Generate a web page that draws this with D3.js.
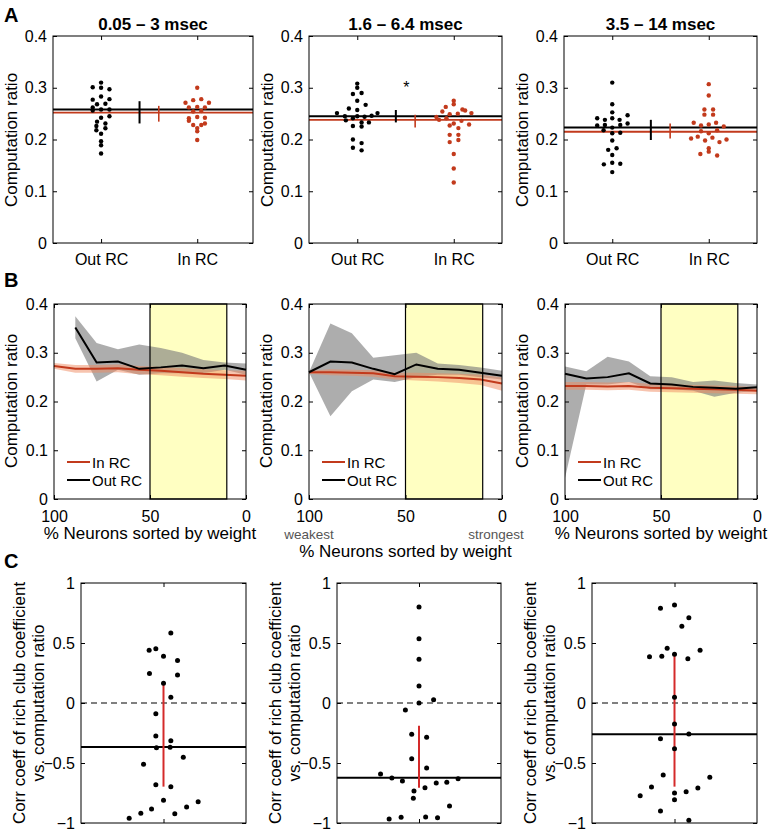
<!DOCTYPE html>
<html><head><meta charset="utf-8">
<script src="https://cdn.jsdelivr.net/npm/d3@7"></script>
<style>body{margin:0;background:#fff}svg{display:block}text{font-family:"Liberation Sans",Arial,sans-serif}</style>
</head><body><svg id="c" width="769" height="833"></svg>
<script>
// ---------------- DATA ----------------
const panelLetters = ["A", "B", "C"];
const aTitles = ["0.05 \u2013 3 msec", "1.6 \u2013 6.4 msec", "3.5 \u2013 14 msec"];
const aCats = ["Out RC", "In RC"];
const ratioTicks = [0, 0.1, 0.2, 0.3, 0.4];
// [jitter offset from category, computation ratio]
const a1Out = [[0,.310],[-.087,.301],[0,.300],[.087,.297],[0,.283],[-.087,.277],[.087,.278],[-.042,.268],[.045,.269],[-.087,.262],[-.087,.256],[0,.258],[.087,.258],[0,.242],[.087,.245],[-.042,.2345],[.045,.231],[-.049,.226],[.045,.2216],[-.049,.218],[0,.211],[0,.1965],[0,.189],[0,.173]];
const a1In = [[0,.300],[-.042,.276],[.042,.278],[-.122,.271],[.122,.271],[-.087,.262],[0,.263],[.08,.262],[-.042,.254],[.042,.255],[-.087,.241],[0,.2435],[.08,.242],[-.087,.236],[-.042,.228],[.042,.228],[.08,.231],[0,.222],[0,.216],[0,.199]];
const a2Out = [[0,.308],[0,.300],[-.045,.288],[.045,.290],[0,.275],[.087,.267],[-.087,.260],[0,.257],[-.21,.251],[.21,.251],[-.128,.245],[-.045,.241],[0,.245],[.076,.244],[.149,.246],[-.118,.237],[.045,.233],[.121,.233],[-.045,.226],[.045,.225],[-.045,.200],[.045,.193],[-.045,.184],[.045,.179]];
const a2In = [[0,.275],[0,.268],[-.083,.263],[-.118,.254],[.09,.258],[.118,.256],[.183,.251],[-.042,.249],[.042,.25],[-.18,.2435],[-.152,.238],[-.076,.241],[.08,.236],[0,.231],[-.042,.227],[.159,.229],[.048,.222],[-.042,.209],[.048,.209],[-.042,.195],[.048,.199],[0,.172],[0,.144],[0,.117]];
const a3Out = [[0,.310],[0,.268],[0,.2525],[-.156,.241],[-.076,.238],[0,.241],[.076,.238],[.159,.247],[.159,.231],[-.156,.227],[-.076,.228],[-.09,.218],[0,.223],[.083,.228],[.083,.213],[0,.212],[0,.198],[-.042,.180],[.045,.183],[0,.170],[-.087,.152],[.083,.153],[0,.155],[0,.137]];
const a3In = [[0,.307],[0,.285],[-.045,.258],[.045,.258],[-.045,.248],[.045,.248],[-.156,.2325],[-.08,.227],[0,.229],[.076,.2325],[.156,.225],[.087,.218],[-.08,.216],[0,.212],[-.114,.2055],[-.183,.202],[-.038,.198],[.038,.2036],[.111,.195],[.184,.200],[0,.183],[0,.1765],[-.087,.172],[.087,.169]];
const aMeans = [[.258,.252],[.245,.238],[.223,.215]];          // [Out RC, In RC]
const aErr = [[[.231,.274],[.2345,.265]],[[.233,.257],[.223,.248]],[[.199,.238],[.202,.231]]];
const aErrPos = [1.4, 1.6];
const aStar = [null, [1.51, .303], null];

const bX = [100, 88.9, 77.8, 66.7, 55.6, 44.4, 33.3, 22.2, 11.1, 0];
const bXTicks = [100, 50, 0];
const bHighlight = [50, 10];
const b1Out   = [null,.352,.280,.282,.267,.270,.274,.268,.274,.265];
const b1OutHi = [null,.375,.320,.307,.317,.310,.300,.285,.280,.278];
const b1OutLo = [null,.330,.241,.265,.255,.258,.258,.258,.265,.255];
const b1In    = [.273,.267,.267,.268,.265,.263,.260,.257,.255,.253];
const b1InHi  = [.279,.275,.275,.276,.273,.271,.268,.266,.264,.263];
const b1InLo  = [.267,.259,.259,.260,.256,.254,.251,.248,.246,.243];
const b2Out   = [.260,.282,.280,.267,.256,.276,.267,.265,.259,.253];
const b2OutHi = [.260,.360,.340,.290,.295,.300,.278,.275,.270,.263];
const b2OutLo = [.260,.170,.221,.245,.240,.250,.255,.255,.250,.245];
const b2In    = [.260,.260,.259,.258,.252,.251,.250,.248,.245,.237];
const b2InHi  = [.263,.266,.265,.264,.259,.259,.258,.257,.255,.250];
const b2InLo  = [.257,.254,.253,.251,.245,.243,.241,.238,.234,.222];
const b3Out   = [.257,.247,.250,.258,.237,.235,.230,.228,.226,.229];
const b3OutHi = [.272,.262,.292,.282,.252,.250,.240,.243,.238,.235];
const b3OutLo = [.043,.235,.235,.240,.225,.225,.222,.210,.218,.222];
const b3In    = [.232,.232,.231,.232,.228,.227,.226,.225,.224,.222];
const b3InHi  = [.240,.240,.239,.240,.236,.235,.234,.233,.232,.229];
const b3InLo  = [.224,.224,.223,.224,.220,.219,.218,.217,.216,.215];
const bLegend = ["In RC", "Out RC"];
const bXTitle = "% Neurons sorted by weight";
const bEnds = ["weakest", "strongest"];

const cTicks = [-1, -0.5, 0, 0.5, 1];
const cTitle = ["Corr coeff of rich club coefficient", "vs. computation ratio"];
// [x position (centre = 1), correlation coefficient]
const c1 = [[1.089,.583],[0.826,.439],[0.907,.453],[1.0,.389],[1.17,.355],[0.83,.245],[1.17,.233],[1.0,.164],[1.089,.047],[0.907,-.089],[0.907,-.275],[1.089,-.314],[0.915,-.372],[1.08,-.369],[0.758,-.511],[1.24,-.453],[0.907,-.681],[1.089,-.697],[1.0,-.811],[1.42,-.822],[1.28,-.867],[0.855,-.883],[0.725,-.919],[1.137,-.922],[0.584,-.961]];
const c2 = [[1,.8],[1,.536],[1,.364],[1,.142],[1,0],[1.178,.028],[0.834,-.058],[0.911,-.261],[1.093,-.286],[0.911,-.464],[1.093,-.542],[0.531,-.592],[0.669,-.625],[0.798,-.65],[1.477,-.631],[1.339,-.661],[1.21,-.667],[1.073,-.706],[0.939,-.733],[0.931,-.794],[1.372,-.858],[0.636,-.967],[0.782,-.953],[1.081,-.95],[1.226,-.956]];
const c3 = [[1,.817],[0.83,.789],[1.174,.711],[1.089,.639],[0.911,.456],[1.31,.439],[0.697,.386],[0.846,.389],[1,.406],[1.162,.369],[1,.047],[1,-.175],[1.174,-.258],[0.83,-.297],[1,-.381],[0.863,-.6],[1.428,-.619],[0.721,-.7],[1.283,-.708],[1.141,-.739],[1,-.75],[0.584,-.772],[1,-.806],[0.83,-.9],[1.174,-.978]];
const cMeans = [-0.367, -0.622, -0.261];
const cRange = [[-0.697, 0.164], [-0.706, -0.189], [-0.697, 0.406]];

// ---------------- DRAW ----------------
const RED = "#c23a1c", CRED = "#d42a2a";
const svg = d3.select("#c");

function styleAxis(g, fs) {
  g.select(".domain").remove();
  g.selectAll(".tick line").attr("stroke", "#000");
  g.selectAll(".tick text").attr("fill", "#000").style("font-size", fs + "px")
    .style("font-family", '"Liberation Sans", Arial, sans-serif');
}
function axes(g, x, y, xt, xf, yt, yf, xpad) {
  const [x0, x1] = x.range(), [yb, yt0] = y.range();
  g.append("g").attr("transform", `translate(${x0},0)`)
    .call(d3.axisLeft(y).tickValues(yt).tickFormat(yf).tickSize(-4).tickPadding(6)).call(a => styleAxis(a, 16));
  g.append("g").attr("transform", `translate(${x1},0)`)
    .call(d3.axisRight(y).tickValues(yt).tickFormat("").tickSize(-4)).call(a => styleAxis(a, 16));
  g.append("g").attr("transform", `translate(0,${yb})`)
    .call(d3.axisBottom(x).tickValues(xt).tickFormat(xf).tickSize(-4).tickPadding(xpad)).call(a => styleAxis(a, 16));
  g.append("g").attr("transform", `translate(0,${yt0})`)
    .call(d3.axisTop(x).tickValues(xt).tickFormat("").tickSize(-4)).call(a => styleAxis(a, 16));
  g.append("rect").attr("x", x0).attr("y", yt0).attr("width", x1 - x0).attr("height", yb - yt0)
    .attr("fill", "none").attr("stroke", "#000").attr("stroke-width", 1);
}
function yLabel(g, text, bx, cy) {
  g.append("text").attr("transform", `translate(${bx},${cy}) rotate(-90)`).attr("text-anchor", "middle")
    .style("font-size", "17px").text(text);
}
const ratioFmt = d => d === 0 ? "0" : d3.format(".1f")(d);

// letters
[22, 287, 568].forEach((yy, i) => svg.append("text").attr("x", 4).attr("y", yy)
  .style("font-size", "20px").style("font-weight", "bold").text(panelLetters[i]));

// Row A
const LA = [{x0:53,x1:253,d:[0.5,2.58]},{x0:309,x1:502,d:[0.5,2.5]},{x0:564,x1:757,d:[0.5,2.5]}];
const aData = [[a1Out,a1In],[a2Out,a2In],[a3Out,a3In]];
LA.forEach((P, i) => {
  const g = svg.append("g");
  const x = d3.scaleLinear().domain(P.d).range([P.x0, P.x1]);
  const y = d3.scaleLinear().domain([0, 0.4]).range([243, 36]);
  const cols = ["#000", RED];
  [1, 0].forEach(k => g.append("line").attr("x1", P.x0).attr("x2", P.x1)
    .attr("y1", y(aMeans[i][k])).attr("y2", y(aMeans[i][k]))
    .attr("stroke", cols[k]).attr("stroke-width", k === 0 ? 2 : 1.8));
  [0, 1].forEach(k => g.append("line").attr("x1", x(aErrPos[k])).attr("x2", x(aErrPos[k]))
    .attr("y1", y(aErr[i][k][0])).attr("y2", y(aErr[i][k][1]))
    .attr("stroke", cols[k]).attr("stroke-width", k === 0 ? 2 : 1.6));
  [0, 1].forEach(k => g.selectAll(null).data(aData[i][k]).join("circle")
    .attr("cx", d => x(k + 1 + d[0])).attr("cy", d => y(d[1])).attr("r", 2.2).attr("fill", cols[k]));
  if (aStar[i]) g.append("text").attr("x", x(aStar[i][0])).attr("y", y(aStar[i][1]) + 7)
    .attr("text-anchor", "middle").style("font-size", "16px").text("*");
  axes(g, x, y, [1, 2], (d, j) => aCats[j], ratioTicks, ratioFmt, 11);
  yLabel(g, "Computation ratio", P.x0 - 36, 140);
  g.append("text").attr("x", (P.x0 + P.x1) / 2).attr("y", 30).attr("text-anchor", "middle")
    .style("font-size", "17px").style("font-weight", "bold").text(aTitles[i]);
});

// Row B
const LB = [{x0:54,x1:246},{x0:309,x1:502},{x0:565,x1:757}];
const bData = [
  [b1Out,b1OutHi,b1OutLo,b1In,b1InHi,b1InLo],
  [b2Out,b2OutHi,b2OutLo,b2In,b2InHi,b2InLo],
  [b3Out,b3OutHi,b3OutLo,b3In,b3InHi,b3InLo]];
LB.forEach((P, i) => {
  const g = svg.append("g");
  const x = d3.scaleLinear().domain([100, 0]).range([P.x0, P.x1]);
  const y = d3.scaleLinear().domain([0, 0.4]).range([499, 304]);
  const [mo, ho, lo, mi, hi, li] = bData[i];
  g.append("rect").attr("x", x(bHighlight[0])).attr("y", 304).attr("width", x(bHighlight[1]) - x(bHighlight[0]))
    .attr("height", 195).attr("fill", "#ffffc2");
  const area = (H, L) => d3.area().defined((d, j) => H[j] != null).x(d => x(d))
    .y0((d, j) => y(L[j])).y1((d, j) => y(H[j]))(bX);
  const line = M => d3.line().defined((d, j) => M[j] != null).x(d => x(d)).y((d, j) => y(M[j]))(bX);
  g.append("path").attr("d", area(ho, lo)).attr("fill", "#7a7a7a").attr("fill-opacity", 0.62);
  g.append("path").attr("d", area(hi, li)).attr("fill", "#f08a60").attr("fill-opacity", 0.5);
  g.append("path").attr("d", line(mi)).attr("fill", "none").attr("stroke", RED).attr("stroke-width", 2);
  g.append("path").attr("d", line(mo)).attr("fill", "none").attr("stroke", "#000").attr("stroke-width", 2);
  g.append("rect").attr("x", x(bHighlight[0])).attr("y", 304).attr("width", x(bHighlight[1]) - x(bHighlight[0]))
    .attr("height", 195).attr("fill", "none").attr("stroke", "#000").attr("stroke-width", 1.2);
  axes(g, x, y, bXTicks, d3.format("d"), ratioTicks, ratioFmt, 12);
  yLabel(g, "Computation ratio", P.x0 - 37, 401);
  [RED, "#000"].forEach((c, k) => {
    const yy = 462 + k * 18;
    g.append("line").attr("x1", P.x0 + 13).attr("x2", P.x0 + 36).attr("y1", yy).attr("y2", yy)
      .attr("stroke", c).attr("stroke-width", 2);
    g.append("text").attr("x", P.x0 + 38).attr("y", yy + 5.5).style("font-size", "15px").text(bLegend[k]);
  });
  const ty = i === 1 ? 557 : 539;
  g.append("text").attr("x", (P.x0 + P.x1) / 2).attr("y", ty).attr("text-anchor", "middle")
    .style("font-size", "17px").text(bXTitle);
  if (i === 1) {
    [100, 0].forEach((v, k) => g.append("text").attr("x", x(v) + (k === 0 ? 0 : -6)).attr("y", 538.5)
      .attr("text-anchor", "middle").attr("fill", "#555")
      .style("font-size", "13.5px").text(bEnds[k]));
  }
});

// Row C
const LC = [{x0:81,x1:246},{x0:337,x1:501},{x0:592,x1:757}];
const cData = [c1, c2, c3];
LC.forEach((P, i) => {
  const g = svg.append("g");
  const x = d3.scaleLinear().domain([0, 2]).range([P.x0, P.x1]);
  const y = d3.scaleLinear().domain([-1, 1]).range([823, 583]);
  g.append("line").attr("x1", P.x0).attr("x2", P.x1).attr("y1", y(0)).attr("y2", y(0))
    .attr("stroke", "#000").attr("stroke-width", 1).attr("stroke-dasharray", "6,4");
  g.append("line").attr("x1", P.x0).attr("x2", P.x1).attr("y1", y(cMeans[i])).attr("y2", y(cMeans[i]))
    .attr("stroke", "#000").attr("stroke-width", 2);
  g.append("line").attr("x1", x(1)).attr("x2", x(1)).attr("y1", y(cRange[i][0])).attr("y2", y(cRange[i][1]))
    .attr("stroke", CRED).attr("stroke-width", 2);
  g.selectAll(null).data(cData[i]).join("circle")
    .attr("cx", d => x(d[0])).attr("cy", d => y(d[1])).attr("r", 2.5).attr("fill", "#000");
  axes(g, x, y, [1], "", cTicks, d => d === 0 ? "0" : (d < 0 ? "\u2212" : "") + Math.abs(d), 11);
  g.append("text").attr("transform", `translate(${P.x0 - 56},703) rotate(-90)`).attr("text-anchor", "middle")
    .style("font-size", "17px").text(cTitle[0]);
  g.append("text").attr("transform", `translate(${P.x0 - 37},703) rotate(-90)`).attr("text-anchor", "middle")
    .style("font-size", "17px").text(cTitle[1]);
});
</script></body></html>
